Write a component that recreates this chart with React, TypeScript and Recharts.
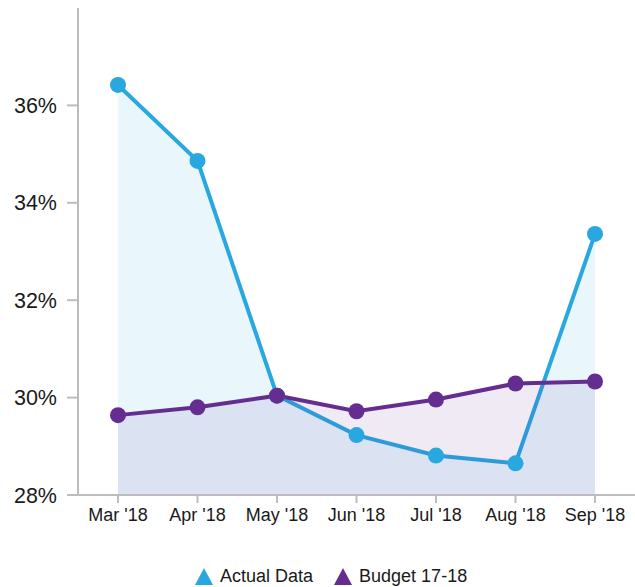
import React from 'react';
import { ComposedChart, Area, XAxis, YAxis, Legend } from 'recharts';

const months = ["Mar '18", "Apr '18", "May '18", "Jun '18", "Jul '18", "Aug '18", "Sep '18"];
const actualData = [36.42, 34.86, 30.04, 29.23, 28.81, 28.65, 33.36];
const budgetData = [29.64, 29.8, 30.04, 29.72, 29.96, 30.29, 30.33];
const yTicks = [28, 30, 32, 34, 36];

const data = months.map((m, i) => ({ month: m, actual: actualData[i], budget: budgetData[i] }));

const BLUE = '#29a8e0';
const PURPLE = '#662d91';
const TEXT = '#1a1a1a';
const FONT = '"Liberation Sans", Arial, Helvetica, sans-serif';

const renderLegend = (props: any) => {
  const payload = props.payload || [];
  return (
    <div style={{ display: 'flex', alignItems: 'center', paddingLeft: 195, height: 22, fontFamily: FONT, fontSize: 18, color: TEXT }}>
      {payload.map((entry: any, i: number) => (
        <div key={i} style={{ display: 'flex', alignItems: 'center', marginRight: 21 }}>
          <svg width={18} height={18} style={{ marginRight: 7 }}>
            <polygon points="9,1 18,18 0,18" fill={entry.color} />
          </svg>
          <span>{entry.value}</span>
        </div>
      ))}
    </div>
  );
};

export default function App() {
  return (
    <div style={{ position: 'absolute', left: 0, top: 0, fontFamily: FONT }}>
      <ComposedChart
        width={635}
        height={587}
        data={data}
        margin={{ top: 8, right: 0, left: 0, bottom: 0 }}
      >
        <XAxis
          dataKey="month"
          stroke="#bdbdbd"
          strokeWidth={2}
          tickSize={8}
          tickMargin={5}
          tick={{ fill: TEXT, fontSize: 18, fontFamily: FONT }}
          interval={0}
          height={70}
          padding={{ left: 40, right: 40 }}
        />
        <YAxis
          domain={[28, 38]}
          ticks={yTicks}
          tickFormatter={(v: number) => `${v}%`}
          stroke="#bdbdbd"
          strokeWidth={2}
          tickSize={11}
          tickMargin={10}
          tick={{ fill: TEXT, fontSize: 21.5, fontFamily: FONT }}
          width={78}
          allowDataOverflow
        />
        <Legend
          verticalAlign="bottom"
          align="left"
          content={renderLegend}
          wrapperStyle={{ left: 0, width: 635 }}
        />
        <Area
          type="linear"
          dataKey="actual"
          name="Actual Data"
          stroke={BLUE}
          strokeWidth={4}
          fill={BLUE}
          fillOpacity={0.1}
          dot={{ r: 8, fill: BLUE, fillOpacity: 1, stroke: 'none' }}
          activeDot={false}
          legendType="triangle"
          isAnimationActive={false}
        />
        <Area
          type="linear"
          dataKey="budget"
          name="Budget 17-18"
          stroke={PURPLE}
          strokeWidth={4}
          fill={PURPLE}
          fillOpacity={0.1}
          dot={{ r: 8, fill: PURPLE, fillOpacity: 1, stroke: 'none' }}
          activeDot={false}
          legendType="triangle"
          isAnimationActive={false}
        />
      </ComposedChart>
    </div>
  );
}
